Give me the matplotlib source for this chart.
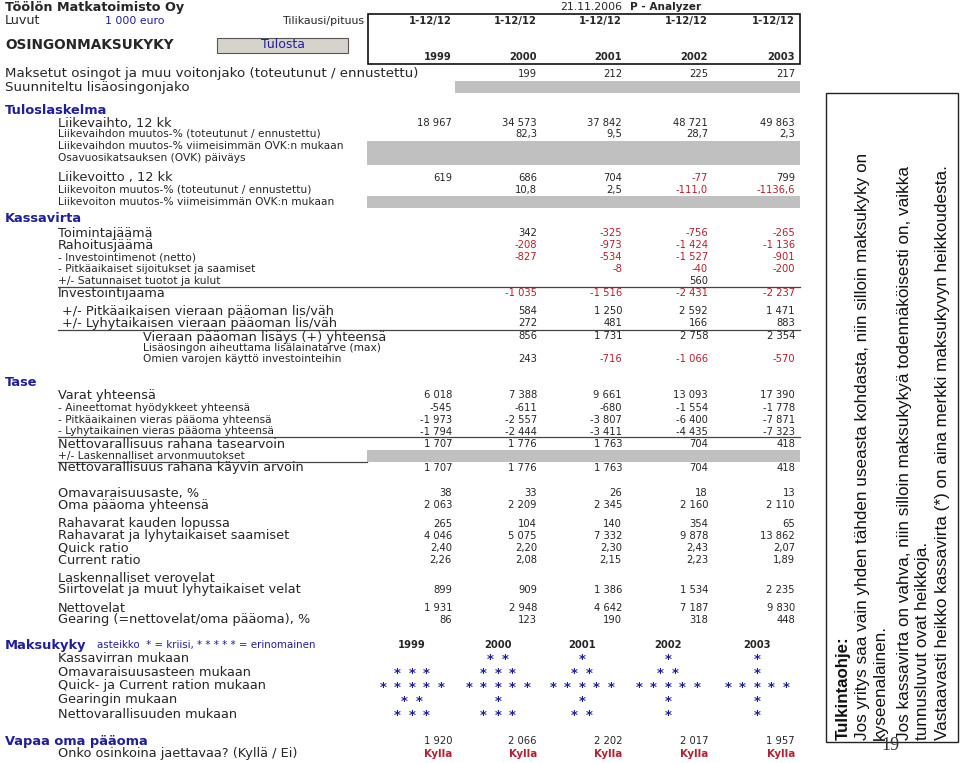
import matplotlib.pyplot as plt
from matplotlib.patches import Rectangle

plt.rcParams["font.family"] = ["DejaVu Sans"]

# ---- data ----
years = [1999, 2000, 2001, 2002, 2003]
periods = ["1-12/12", "1-12/12", "1-12/12", "1-12/12", "1-12/12"]

dividends = [None, 199, 212, 225, 217]
revenue = [18967, 34573, 37842, 48721, 49863]
revenue_change = [None, 82.3, 9.5, 28.7, 2.3]
op_profit = [619, 686, 704, -77, 799]
op_profit_change = [None, 10.8, 2.5, -111.0, -1136.6]

operating_margin = [None, 342, -325, -756, -265]
financing_margin = [None, -208, -973, -1424, -1136]
investments_net = [None, -827, -534, -1527, -901]
long_term_investments = [None, None, -8, -40, -200]
extraordinary = [None, None, None, 560, None]
investment_margin = [None, -1035, -1516, -2431, -2237]
long_term_debt_change = [None, 584, 1250, 2592, 1471]
short_term_debt_change = [None, 272, 481, 166, 883]
debt_increase_total = [None, 856, 1731, 2758, 2354]
own_funds_used = [None, 243, -716, -1066, -570]

total_assets = [6018, 7388, 9661, 13093, 17390]
intangibles = [-545, -611, -680, -1554, -1778]
long_term_debt = [-1973, -2557, -3807, -6400, -7871]
short_term_debt = [-1794, -2444, -3411, -4435, -7323]
net_worth_book = [1707, 1776, 1763, 704, 418]
net_worth_market = [1707, 1776, 1763, 704, 418]
equity_ratio = [38, 33, 26, 18, 13]
equity_total = [2063, 2209, 2345, 2160, 2110]
cash_end = [265, 104, 140, 354, 65]
cash_and_receivables = [4046, 5075, 7332, 9878, 13862]
quick_ratio = [2.40, 2.20, 2.30, 2.43, 2.07]
current_ratio = [2.26, 2.08, 2.15, 2.23, 1.89]
accrued_liabilities = [899, 909, 1386, 1534, 2235]
net_debt = [1931, 2948, 4642, 7187, 9830]
gearing = [86, 123, 190, 318, 448]

stars_cashflow = [0, 2, 1, 1, 1]
stars_equity_ratio = [3, 3, 2, 2, 1]
stars_quick_current = [5, 5, 5, 5, 5]
stars_gearing = [2, 1, 1, 1, 1]
stars_net_worth = [3, 3, 2, 1, 1]

free_equity = [1920, 2066, 2202, 2017, 1957]
can_pay = ["Kylla", "Kylla", "Kylla", "Kylla", "Kylla"]

guide_lines = [
    "Jos yritys saa vain yhden tähden useasta kohdasta, niin silloin maksukyky on",
    "kyseenalainen.",
    "Jos kassavirta on vahva, niin silloin maksukykyä todennäköisesti on, vaikka",
    "tunnusluvut ovat heikkoja.",
    "Vastaavasti heikko kassavirta (*) on aina merkki maksukyvyn heikkoudesta.",
]

# ---- layout ----
COL_R = [452, 537, 622, 708, 795]
COL_C = [412, 498, 582, 668, 757]
BLUE = "#1f1f9e"
RED = "#b5202e"
GRAY = "#c0c0c0"
TXT = "#262626"
BIG, SMALL, NUM, HEAD = 9.3, 7.7, 7.2, 9.4


def fmt(v, dec=0):
    if dec:
        return f"{v:.{dec}f}".replace(".", ",")
    s = f"{abs(int(round(v))):,}".replace(",", " ")
    return ("-" if v < 0 else "") + s


def label(ax, x, y, text, size=BIG, **kw):
    ax.text(x, y, text, fontsize=size, va="center", ha="left",
            color=kw.pop("color", TXT), **kw)


def values(ax, y, vals, dec=0, red_neg=False):
    for x, v in zip(COL_R, vals):
        if v is None:
            continue
        c = RED if (red_neg and v < 0) else TXT
        ax.text(x, y, fmt(v, dec), fontsize=NUM, ha="right", va="center", color=c)


def gray_bar(ax, x0, x1, y0, y1):
    ax.add_patch(Rectangle((x0, y0), x1 - x0, y1 - y0, facecolor=GRAY,
                           edgecolor="none"))


def hline(ax, y, x0=58, x1=800):
    ax.plot([x0, x1], [y, y], color="#444444", lw=0.9)


fig = plt.figure(figsize=(9.6, 7.63), dpi=100)
ax = fig.add_axes([0, 0, 1, 1])
ax.set_xlim(0, 960)
ax.set_ylim(763, 0)
ax.axis("off")

# header
label(ax, 5, 8, "Töölön Matkatoimisto Oy", size=9.2, fontweight="bold")
ax.text(560, 7, "21.11.2006", fontsize=7.8, va="center", color=TXT)
ax.text(630, 7, "P - Analyzer", fontsize=7.6, va="center", color=TXT,
        fontweight="bold")
label(ax, 5, 21, "Luvut", size=9.2)
label(ax, 105, 21, "1 000 euro", size=7.8, color=BLUE)
ax.text(365, 21, "Tilikausi/pituus", fontsize=7.9, ha="right", va="center",
        color=TXT)
label(ax, 5, 45, "OSINGONMAKSUKYKY", size=9.8, fontweight="bold")
ax.add_patch(Rectangle((217, 38), 131, 15, facecolor="#d6d3cc",
                       edgecolor="#555555", lw=0.8))
ax.text(283, 45, "Tulosta", fontsize=9.0, ha="center", va="center", color=BLUE)
ax.add_patch(Rectangle((368, 14), 432, 50, facecolor="none",
                       edgecolor="#111111", lw=1.2))
for x, p, yr in zip(COL_R, periods, years):
    ax.text(x, 21, p, fontsize=7.2, ha="right", va="center",
            fontweight="bold", color=TXT)
    ax.text(x, 57, str(yr), fontsize=7.2, ha="right", va="center",
            fontweight="bold", color=TXT)

label(ax, 5, 74, "Maksetut osingot ja muu voitonjako (toteutunut / ennustettu)",
      size=9.6)
values(ax, 74, dividends)
label(ax, 5, 87, "Suunniteltu lisäosingonjako", size=9.6)
gray_bar(ax, 455, 800, 81, 93)

# Tuloslaskelma
label(ax, 5, 110, "Tuloslaskelma", size=HEAD, fontweight="bold", color=BLUE)
label(ax, 58, 123, "Liikevaihto, 12 kk")
values(ax, 123, revenue)
label(ax, 58, 134, "Liikevaihdon muutos-% (toteutunut / ennustettu)", size=SMALL)
values(ax, 134, revenue_change, dec=1, red_neg=True)
label(ax, 58, 146, "Liikevaihdon muutos-% viimeisimmän OVK:n mukaan", size=SMALL)
label(ax, 58, 158, "Osavuosikatsauksen (OVK) päiväys", size=SMALL)
gray_bar(ax, 367, 800, 141, 165)
label(ax, 58, 178, "Liikevoitto , 12 kk")
values(ax, 178, op_profit, red_neg=True)
label(ax, 58, 190, "Liikevoiton muutos-% (toteutunut / ennustettu)", size=SMALL)
values(ax, 190, op_profit_change, dec=1, red_neg=True)
label(ax, 58, 202, "Liikevoiton muutos-% viimeisimmän OVK:n mukaan", size=SMALL)
gray_bar(ax, 367, 800, 196, 208)

# Kassavirta
label(ax, 5, 219, "Kassavirta", size=HEAD, fontweight="bold", color=BLUE)
label(ax, 58, 233, "Toimintajäämä")
values(ax, 233, operating_margin, red_neg=True)
label(ax, 58, 245, "Rahoitusjäämä")
values(ax, 245, financing_margin, red_neg=True)
label(ax, 58, 257, "- Investointimenot (netto)", size=SMALL)
values(ax, 257, investments_net, red_neg=True)
label(ax, 58, 269, "- Pitkäaikaiset sijoitukset ja saamiset", size=SMALL)
values(ax, 269, long_term_investments, red_neg=True)
label(ax, 58, 281, "+/- Satunnaiset tuotot ja kulut", size=SMALL)
values(ax, 281, extraordinary, red_neg=True)
hline(ax, 287)
label(ax, 58, 294, "Investointijäämä")
values(ax, 293, investment_margin, red_neg=True)
label(ax, 62, 311, "+/- Pitkäaikaisen vieraan pääoman lis/väh")
values(ax, 311, long_term_debt_change, red_neg=True)
label(ax, 62, 323, "+/- Lyhytaikaisen vieraan pääoman lis/väh")
values(ax, 323, short_term_debt_change, red_neg=True)
hline(ax, 330)
label(ax, 143, 337, "Vieraan pääoman lisäys (+) yhteensä")
values(ax, 336, debt_increase_total, red_neg=True)
label(ax, 143, 348, "Lisäosingon aiheuttama lisälainatarve (max)", size=SMALL)
label(ax, 143, 359, "Omien varojen käyttö investointeihin", size=SMALL)
values(ax, 359, own_funds_used, red_neg=True)

# Tase
label(ax, 5, 383, "Tase", size=HEAD, fontweight="bold", color=BLUE)
label(ax, 58, 395, "Varat yhteensä")
values(ax, 395, total_assets)
label(ax, 58, 408, "- Aineettomat hyödykkeet yhteensä", size=SMALL)
values(ax, 408, intangibles)
label(ax, 58, 420, "- Pitkäaikainen vieras pääoma yhteensä", size=SMALL)
values(ax, 420, long_term_debt)
label(ax, 58, 431, "- Lyhytaikainen vieras pääoma yhteensä", size=SMALL)
values(ax, 432, short_term_debt)
hline(ax, 437)
label(ax, 58, 444, "Nettovarallisuus rahana tasearvoin")
values(ax, 444, net_worth_book)
gray_bar(ax, 367, 800, 450, 462)
label(ax, 58, 456, "+/- Laskennalliset arvonmuutokset", size=SMALL)
hline(ax, 462, 58, 367)
label(ax, 58, 468, "Nettovarallisuus rahana käyvin arvoin")
values(ax, 468, net_worth_market)
label(ax, 58, 493, "Omavaraisuusaste, %")
values(ax, 493, equity_ratio)
label(ax, 58, 505, "Oma pääoma yhteensä")
values(ax, 505, equity_total)
label(ax, 58, 524, "Rahavarat kauden lopussa")
values(ax, 524, cash_end)
label(ax, 58, 536, "Rahavarat ja lyhytaikaiset saamiset")
values(ax, 536, cash_and_receivables)
label(ax, 58, 548, "Quick ratio")
values(ax, 548, quick_ratio, dec=2)
label(ax, 58, 560, "Current ratio")
values(ax, 560, current_ratio, dec=2)
label(ax, 58, 578, "Laskennalliset verovelat")
label(ax, 58, 590, "Siirtovelat ja muut lyhytaikaiset velat")
values(ax, 590, accrued_liabilities)
label(ax, 58, 608, "Nettovelat")
values(ax, 608, net_debt)
label(ax, 58, 620, "Gearing (=nettovelat/oma pääoma), %")
values(ax, 620, gearing)

# Maksukyky
label(ax, 5, 645, "Maksukyky", size=HEAD, fontweight="bold", color=BLUE)
label(ax, 97, 645, "asteikko  * = kriisi, * * * * * = erinomainen", size=7.4,
      color=BLUE)
for x, yr in zip(COL_C, years):
    ax.text(x, 645, str(yr), fontsize=7.2, ha="center", va="center",
            fontweight="bold", color=TXT)
star_rows = [
    ("Kassavirran mukaan", stars_cashflow, 658),
    ("Omavaraisuusasteen mukaan", stars_equity_ratio, 672),
    ("Quick- ja Current ration mukaan", stars_quick_current, 686),
    ("Gearingin mukaan", stars_gearing, 700),
    ("Nettovarallisuuden mukaan", stars_net_worth, 714),
]
for text, counts, y in star_rows:
    label(ax, 58, y, text)
    for xc, n in zip(COL_C, counts):
        for i in range(n):
            ax.text(xc + (i - (n - 1) / 2) * 14.6, y + 2, "*", fontsize=9.5,
                    ha="center", va="center", color=BLUE, fontweight="bold")

label(ax, 5, 741, "Vapaa oma pääoma", size=HEAD, fontweight="bold", color=BLUE)
values(ax, 741, free_equity)
label(ax, 58, 754, "Onko osinkoina jaettavaa? (Kyllä / Ei)")
for x, t in zip(COL_R, can_pay):
    ax.text(x, 754, t, fontsize=7.4, ha="right", va="center", color=RED,
            fontweight="bold")

# interpretation box
ax.add_patch(Rectangle((826, 93), 132, 649, facecolor="none",
                       edgecolor="#222222", lw=1.0))
ax.text(843, 740, "Tulkintaohje:", fontsize=12.2, rotation=90,
        rotation_mode="anchor", ha="left", va="center", fontweight="bold",
        color="#111111", family="Liberation Sans")
for x, t in zip([862, 880, 905, 922, 943], guide_lines):
    ax.text(x, 740, t, fontsize=12.3, rotation=90, rotation_mode="anchor",
            ha="left", va="center", color="#111111", family="Liberation Sans")
ax.text(890, 746, "19", fontsize=13, ha="center", va="center",
        family="Liberation Serif", color="#333333")

fig.savefig("out.png", dpi=100)
